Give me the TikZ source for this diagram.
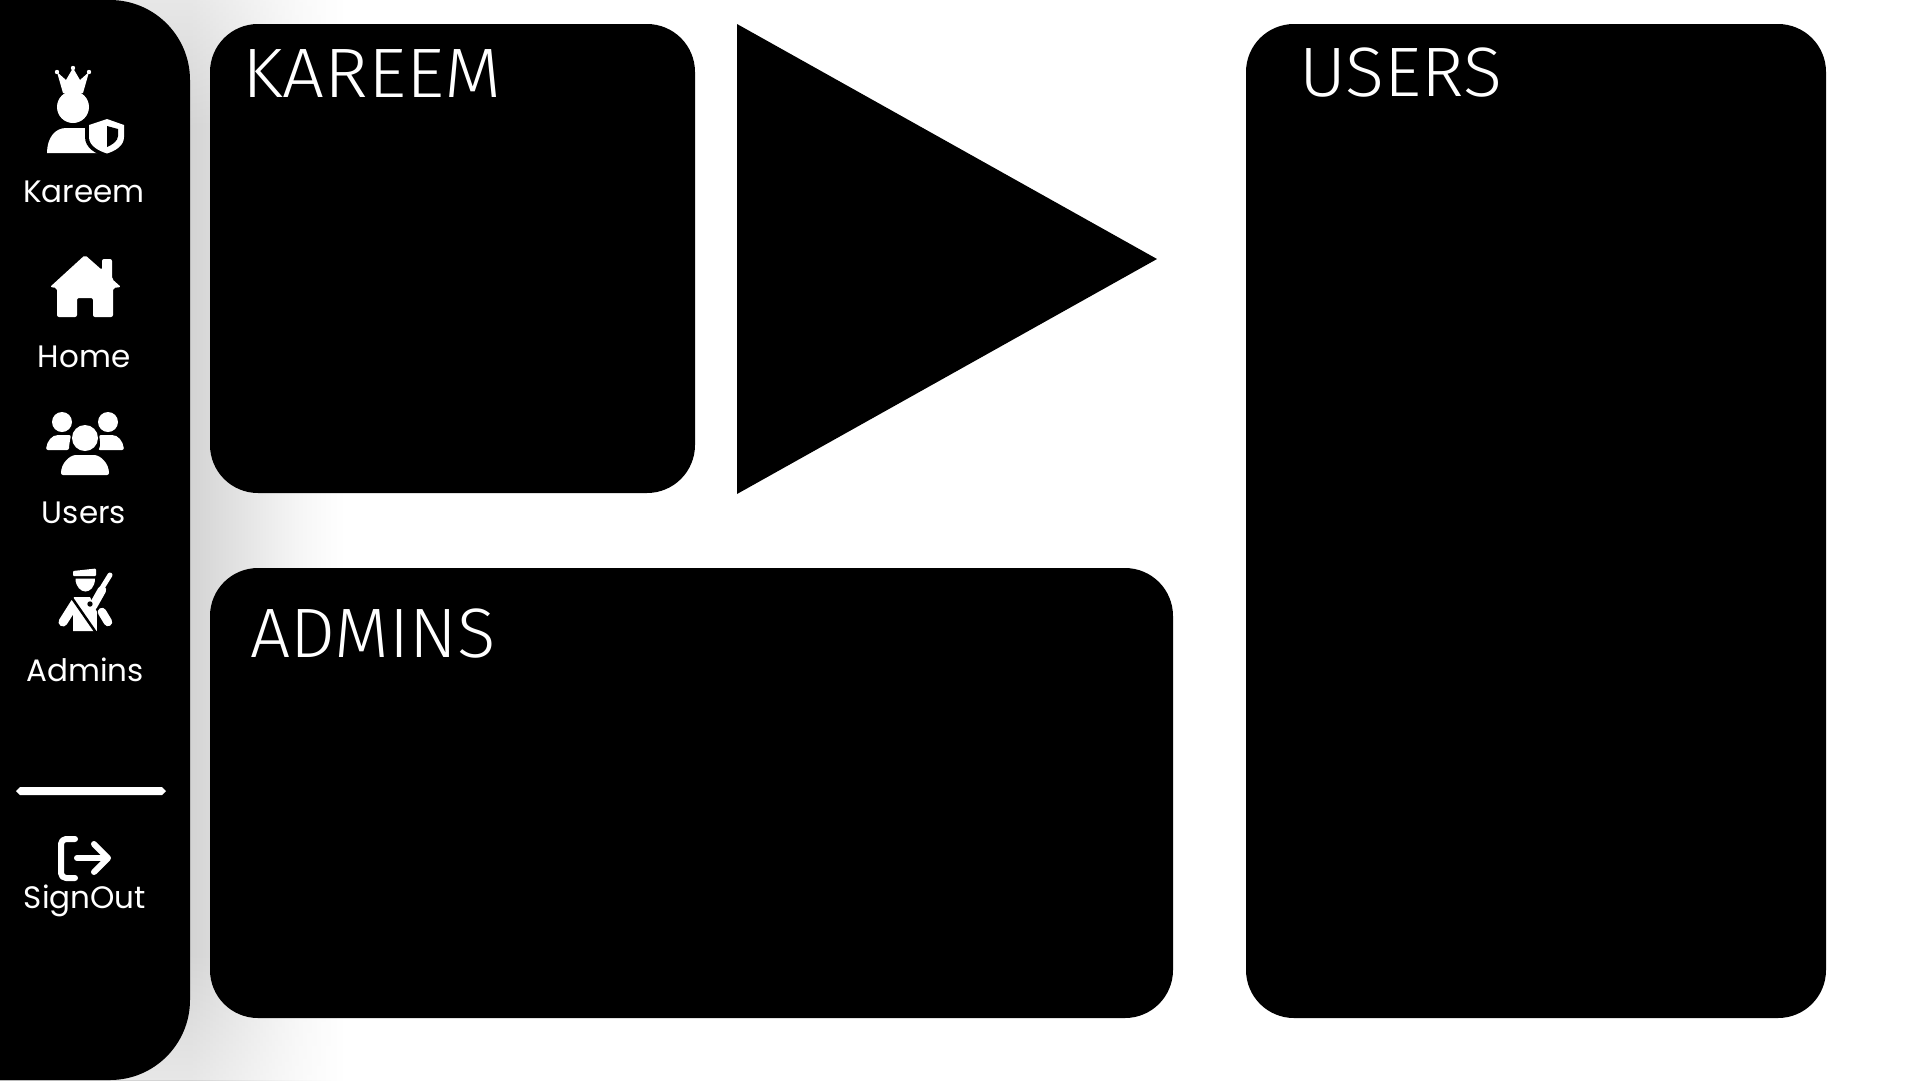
\documentclass[tikz,border=0pt]{standalone}
\usepackage{fontspec}
\setmainfont{Poppins}
\newfontfamily\titlefont[UprightFont=* Light]{Fira Sans}
\usetikzlibrary{fadings}
\pgfdeclarehorizontalshading{sidebarglow}{100bp}{
  color(0bp)=(black!17);
  color(52.14bp)=(black!17);
  color(55.71bp)=(black!14);
  color(59.29bp)=(black!11);
  color(63.57bp)=(black!7);
  color(67.86bp)=(black!3.5);
  color(72.14bp)=(black!1);
  color(74.29bp)=(white);
  color(100bp)=(white)}
\tikzfading[name=edgetop,top color=transparent!55,bottom color=transparent!100]
\tikzfading[name=edgebottom,top color=transparent!100,bottom color=transparent!55]
\tikzset{
  x=1pt,y=-1pt,
  panel/.style={fill=black,rounded corners=48pt},
  navlabel/.style={text=white,anchor=base,inner sep=0pt,font=\fontsize{31}{31}\selectfont},
  paneltitle/.style={text=white,anchor=base west,inner sep=0pt,font=\titlefont\fontsize{70}{70}\selectfont},
  iconfill/.style={fill=white,draw=none},
  iconline/.style={draw=white,line cap=round,line join=round},
}
\begin{document}
\begin{tikzpicture}
\useasboundingbox (0,0) rectangle (1920,1080);
\fill[white] (0,0) rectangle (1920,1080);
% sidebar shadow
\shade[shading=sidebarglow] (0,0) rectangle (350,1080);
\fill[white,path fading=edgetop] (0,0) rectangle (360,130);
\fill[white,path fading=edgebottom] (0,950) rectangle (360,1080);
% sidebar
\fill[black,rounded corners=80pt] (-100,0) rectangle (190,1080);
% panels
\fill[panel] (210,24) rectangle (695,493);
\fill[panel] (210,568) rectangle (1173,1018);
\fill[panel] (1246,24) rectangle (1826,1018);
\fill[black] (737,24) -- (1157,259) -- (737,494) -- cycle;
% titles
\node[paneltitle] (kareemtitle) at (242,97) {\scalebox{1.06}[1]{KAREEM}};
\node[paneltitle] (userstitle) at (1299,96) {\scalebox{1.03}[1]{USERS}};
\node[paneltitle] (adminstitle) at (250,657) {\scalebox{1.015}[1]{ADMINS}};
% nav labels
\node[navlabel] (navkareem) at (84,202) {Kareem};
\node[navlabel] (navhome) at (84,367) {Home};
\node[navlabel] (navusers) at (84,523) {Users};
\node[navlabel] (navadmins) at (85,681) {Admins};
\node[navlabel] (navsignout) at (85,908) {SignOut};
% kareem icon: crown
\fill[iconfill] (63,93) -- (57,72) -- (66,80) -- (73,68) -- (80,80) -- (89,72) -- (83,93) -- cycle;
\fill[iconfill] (57,72) circle (2.2) (73,68) circle (2.2) (89,72) circle (2.2);
\fill[iconfill] (73,107) circle (16);
\fill[iconfill] (47,153) .. controls (47,138) and (55,128) .. (66,128) -- (84,128) -- (100,128) -- (100,153) -- cycle;
\fill[black] (106,116) -- (127,123) -- (127,137) .. controls (127,148) and (116,154) .. (106,157) .. controls (96,154) and (85,148) .. (85,137) -- (85,123) -- cycle;
\fill[iconfill] (107,119) -- (124,125) -- (124,137) .. controls (124,146) and (115,151) .. (107,153.5) .. controls (99,151) and (89,146) .. (89,137) -- (89,125) -- cycle;
\fill[black] (107,126) -- (118,129) -- (118,136) .. controls (118,141) and (112,145) .. (107,147) -- cycle;
% home icon
\fill[iconfill,rounded corners=2pt] (85,255) -- (102,270) -- (102,259) -- (112,259) -- (112,279) -- (121,287) -- (113,288) -- (113,317) -- (93,317) -- (93,298) -- (77,298) -- (77,317) -- (57,317) -- (57,288) -- (50,287) -- cycle;
% users icon
\fill[iconfill] (62,422) circle (10) (108,422) circle (10);
\fill[iconfill,rounded corners=2pt] (46,450) .. controls (47,441) and (52,435) .. (60,435) -- (71,435) .. controls (70,440) and (69,446) .. (69,450) -- cycle;
\fill[iconfill,rounded corners=2pt] (124,450) .. controls (123,441) and (118,435) .. (110,435) -- (99,435) .. controls (100,440) and (101,446) .. (98,450) -- cycle;
\fill[iconfill] (85,438) circle (13);
\fill[iconfill,rounded corners=2pt] (61,475) .. controls (61,463) and (70,455) .. (78,455) -- (92,455) .. controls (100,455) and (109,463) .. (109,475) -- cycle;
% admins icon
\fill[iconfill,rounded corners=1pt] (73,571) -- (96,568.5) -- (96,576) -- (73,576) -- cycle;
\fill[iconfill] (75.5,578.5) -- (95,578.5) .. controls (95,587) and (90,591.5) .. (85.5,591.5) .. controls (81,591.5) and (75.5,587) .. (75.5,578.5) -- cycle;
\fill[iconfill] (74,597) -- (90,597) -- (97,612) -- (97,631) -- (73,631) -- (73,600) -- cycle;
\draw[iconline,line width=9pt] (75,603) -- (63,622);
\draw[iconline,line width=8.5pt] (102,612) -- (108,622);
\draw[black,line width=2.5pt] (72,598) -- (97,634);
\draw[black,line width=1.5pt] (97.5,614) -- (97.5,632);
\draw[white,line width=5pt,line cap=round] (110,575) -- (102,588);
\draw[white,line width=8.5pt,line cap=round] (102,590) -- (93,606);
\fill[black] (90,604) circle (2.7);
% divider
\fill[iconfill] (16,791) -- (20,787) -- (162,787) -- (166,791) -- (162,795) -- (20,795) -- cycle;
% sign out icon
\draw[iconline,line width=6pt,rounded corners=5pt] (75,839) -- (61,839) -- (61,878) -- (75,878);
\draw[iconline,line width=6pt] (77,858) -- (107,858);
\draw[iconline,line width=6pt] (94,844) -- (108,858) -- (94,872);
\end{tikzpicture}
\end{document}
